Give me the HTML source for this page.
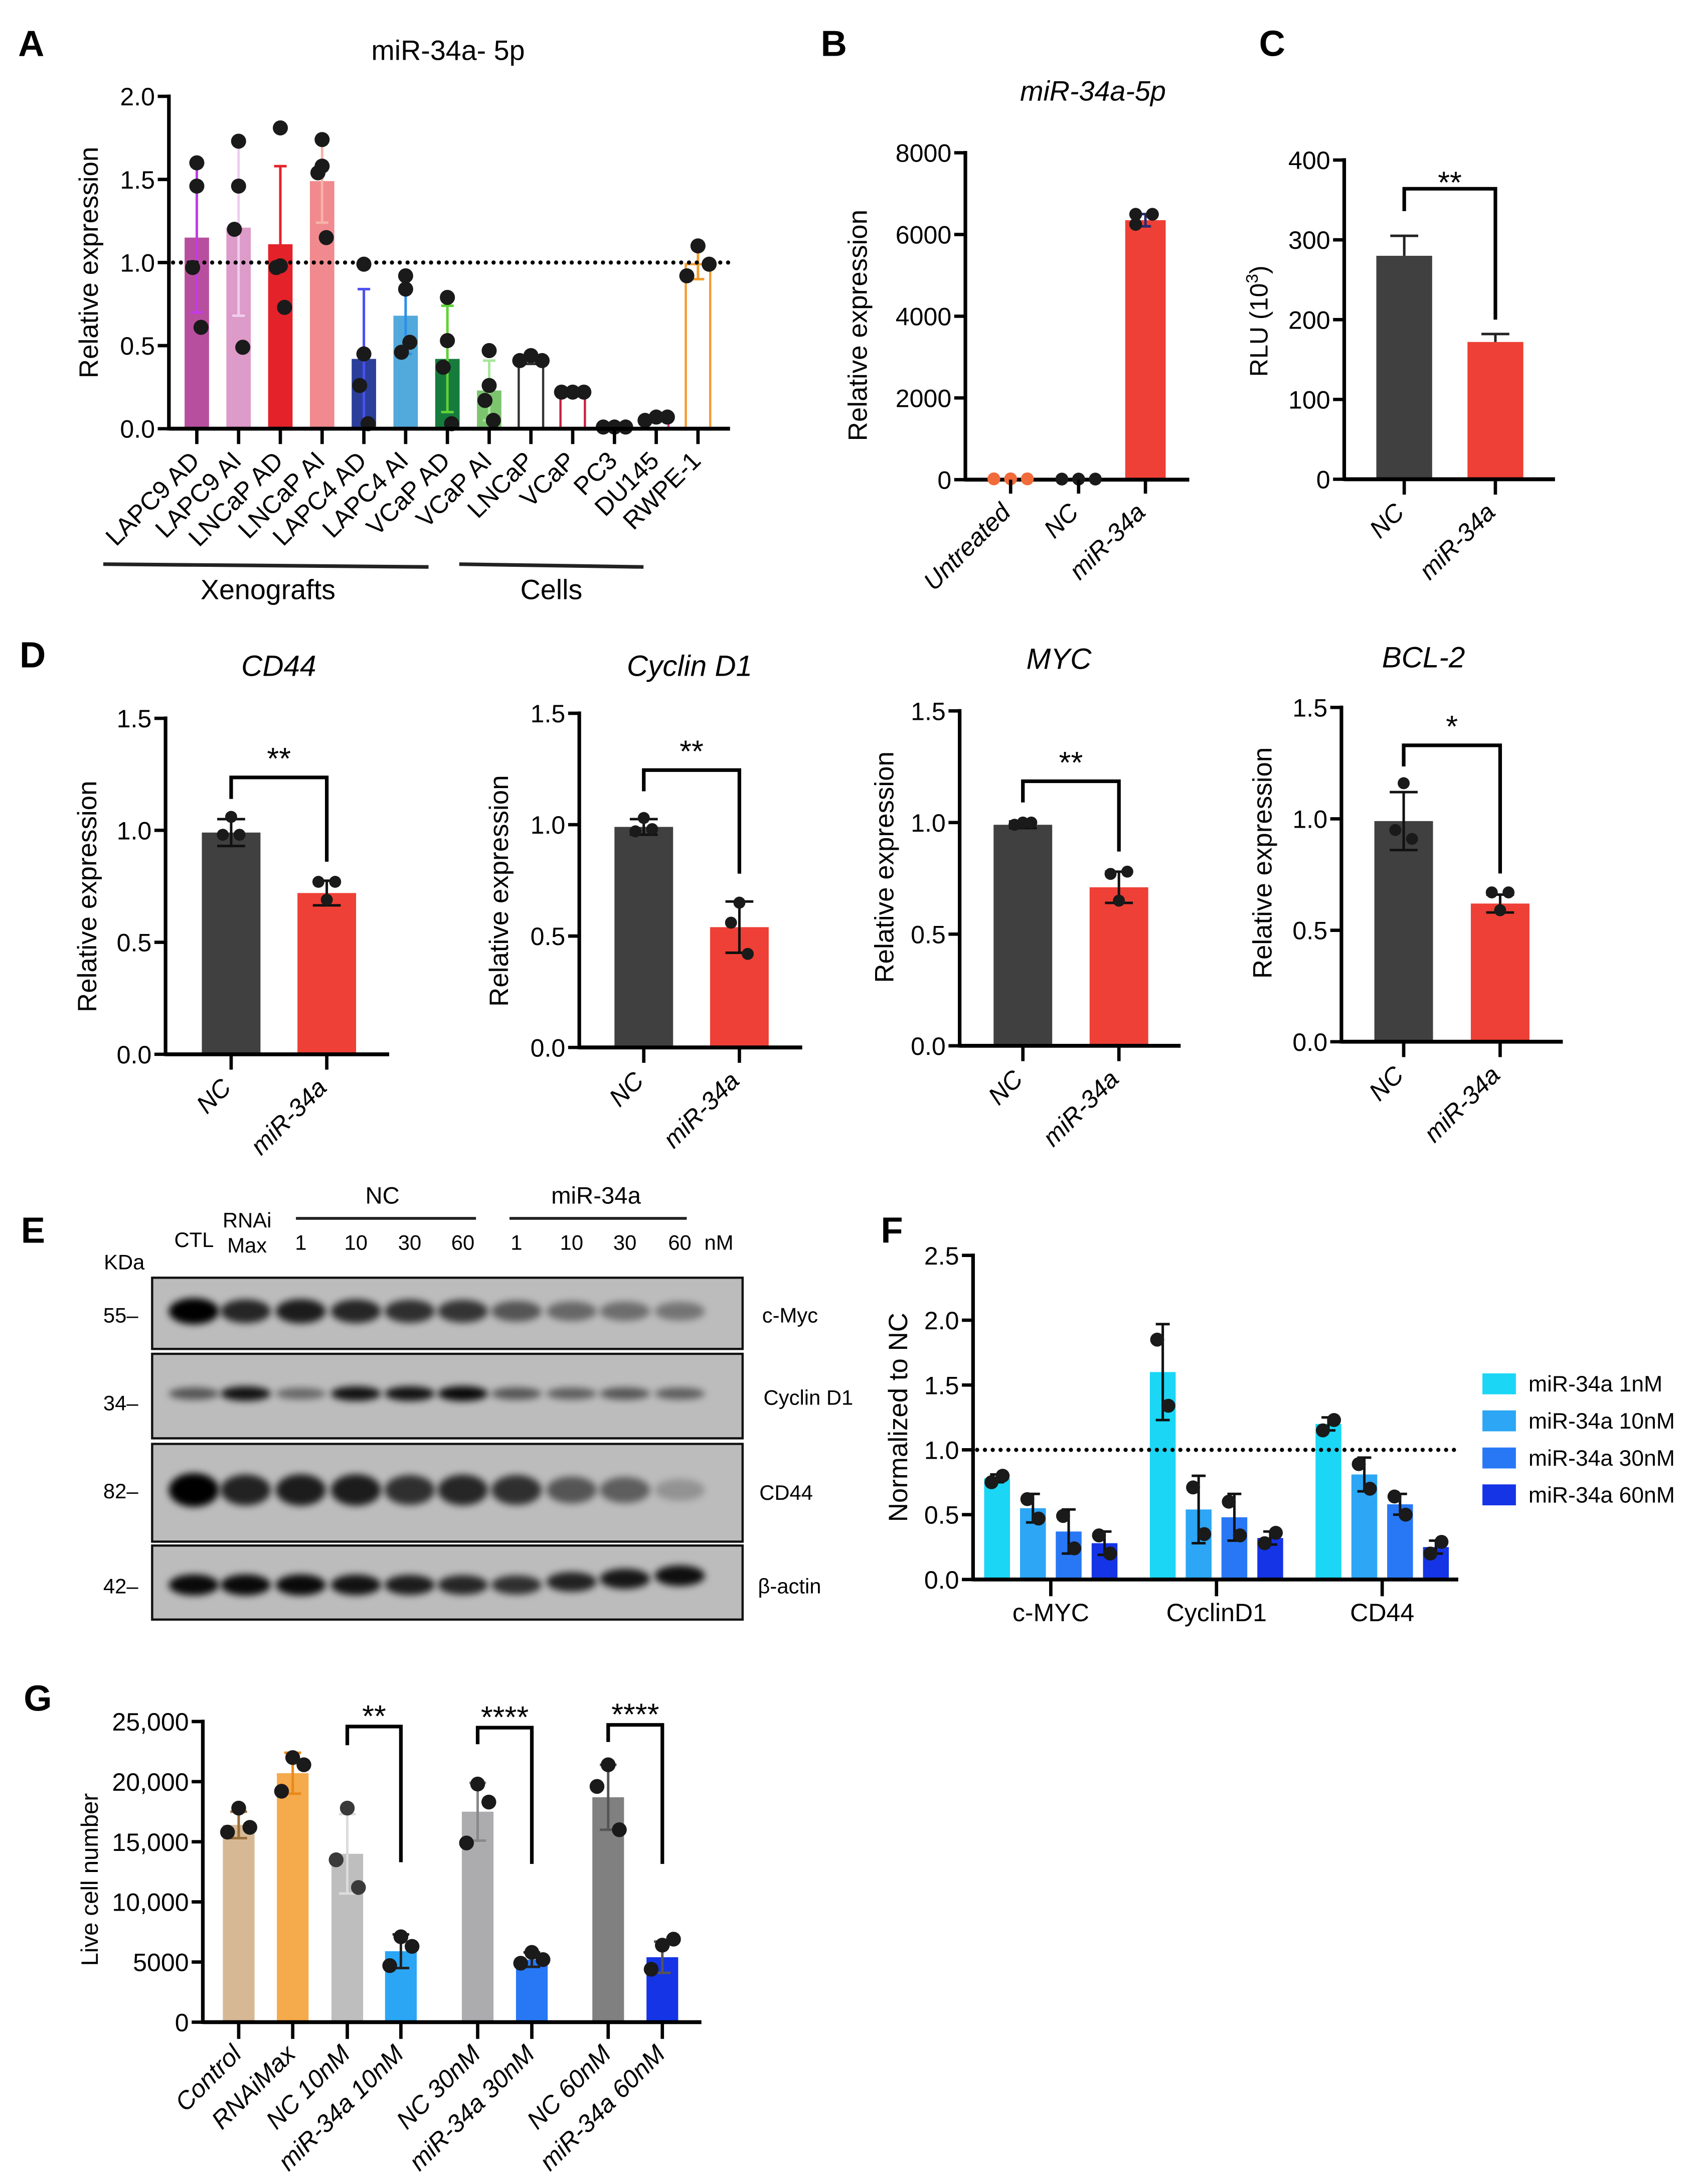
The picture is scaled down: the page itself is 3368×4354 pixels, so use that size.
<!DOCTYPE html>
<html><head><meta charset="utf-8"><title>miR-34a figure</title>
<style>html,body{margin:0;padding:0;background:#fff}svg{display:block}text{font-family:"Liberation Sans",Arial,sans-serif}</style>
</head><body>
<svg id="fig" xmlns="http://www.w3.org/2000/svg" width="3368" height="4354" viewBox="0 0 1210 1564" preserveAspectRatio="none">
<rect width="1210" height="1564" fill="#fff"/>
<defs><filter id="blur" x="-50%" y="-50%" width="200%" height="200%"><feGaussianBlur stdDeviation="2.6"/></filter></defs>
<g font-weight="bold" font-size="26">
<text x="13" y="40">A</text>
<text x="588" y="40">B</text>
<text x="902" y="40">C</text>
<text x="14" y="478">D</text>
<text x="15" y="890">E</text>
<text x="631" y="890">F</text>
<text x="17" y="1225">G</text>
</g>
<text x="321" y="43" font-size="20" text-anchor="middle">miR-34a- 5p</text>
<text x="783" y="72" font-size="20" font-style="italic" text-anchor="middle">miR-34a-5p</text>
<text x="192" y="429" font-size="20" text-anchor="middle">Xenografts</text>
<text x="395" y="429" font-size="20" text-anchor="middle">Cells</text>
<line x1="74" y1="404" x2="307" y2="406" stroke="#222" stroke-width="2.6"/>
<line x1="329" y1="404" x2="461" y2="406" stroke="#222" stroke-width="2.6"/>
<g id="gA"></g>
<g id="gB"></g>
<g id="gC"></g>
<g id="gD"></g>
<g id="gE">
<g font-size="15">
<text x="139" y="893" text-anchor="middle">CTL</text>
<text x="177" y="879" text-anchor="middle">RNAi</text>
<text x="177" y="897" text-anchor="middle">Max</text>
<text x="274" y="862" text-anchor="middle" font-size="17">NC</text>
<text x="427" y="862" text-anchor="middle" font-size="17">miR-34a</text>
<text x="515" y="895" text-anchor="middle">nM</text>
<text x="89" y="909" text-anchor="middle">KDa</text>
<text x="99" y="947" text-anchor="end">55–</text>
<text x="99" y="1010" text-anchor="end">34–</text>
<text x="99" y="1073" text-anchor="end">82–</text>
<text x="99" y="1141" text-anchor="end">42–</text>
<text x="546" y="947">c-Myc</text>
<text x="547" y="1006">Cyclin D1</text>
<text x="544" y="1074">CD44</text>
<text x="543" y="1141">β-actin</text>
</g>
<line x1="212" y1="872.5" x2="341" y2="872.5" stroke="#222" stroke-width="2"/>
<line x1="365" y1="872.5" x2="492" y2="872.5" stroke="#222" stroke-width="2"/>
</g>
<g id="gF"></g>
<g id="gG"></g>
</svg>
<script>
// ---------- DATA ----------
const aCats = ['LAPC9 AD','LAPC9 AI','LNCaP AD','LNCaP AI','LAPC4 AD','LAPC4 AI','VCaP AD','VCaP AI','LNCaP','VCaP','PC3','DU145','RWPE-1'];
const aMeans = [1.15,1.21,1.11,1.49,0.42,0.68,0.42,0.23,0.42,0.22,0.01,0.06,0.99];
const aSD = [0.45,0.53,0.47,0.25,0.42,0.23,0.32,0.18,0.03,0.01,0.01,0.01,0.09];
const aPoints = [[1.60,1.46,0.97,0.61],[1.73,1.46,1.20,0.49],[1.81,0.98,0.97,0.73],[1.74,1.58,1.54,1.15],[0.99,0.45,0.26,0.03],[0.92,0.84,0.46,0.52],[0.79,0.53,0.37,0.03],[0.47,0.26,0.17,0.05],[0.41,0.44,0.41],[0.22,0.22,0.22],[0.01,0.01,0.01],[0.05,0.07,0.07],[0.92,1.10,0.99]];
const aTickVals = [0,0.5,1,1.5,2];
const aTickLabels = ['0.0','0.5','1.0','1.5','2.0'];
const bCats = ['Untreated','NC','miR-34a'];
const bMeans = [0,0,6350];
const bSD = [0,0,150];
const bPoints = [[20,20,20],[15,15,15],[6494,6248,6494]];
const bTickVals = [0,2000,4000,6000,8000];
const bTickLabels = ['0','2000','4000','6000','8000'];
const cCats = ['NC','miR-34a'];
const cMeans = [280,172];
const cSD = [25,10];
const cTickVals = [0,100,200,300,400];
const cTickLabels = ['0','100','200','300','400'];
const cBracket = [336,364,200];
const dGenes = ['CD44','Cyclin D1','MYC','BCL-2'];
const dCats = ['NC','miR-34a'];
const dMeans = [[0.99,0.72],[0.99,0.54],[0.99,0.71],[0.99,0.62]];
const dSD = [[0.06,0.055],[0.035,0.115],[0.015,0.07],[0.13,0.04]];
const dPoints = [[[1.06,0.98,0.98],[0.69,0.77,0.77]],[[1.03,0.97,0.98],[0.65,0.56,0.42]],[[1.00,0.99,1.00],[0.65,0.77,0.78]],[[1.16,0.95,0.91],[0.59,0.67,0.67]]];
const dStars = ['**','**','**','*'];
const dBrackets = [[1.14,1.236,0.86],[1.15,1.245,0.78],[1.09,1.185,0.87],[1.235,1.33,0.755]];
const dTickVals = [0,0.5,1,1.5];
const dTickLabels = ['0.0','0.5','1.0','1.5'];
const eLanes = ['CTL','RNAiMax','NC 1','NC 10','NC 30','NC 60','miR 1','miR 10','miR 30','miR 60'];
const eLaneLabels = ['1','10','30','60','1','10','30','60'];
const eMyc = [1.0,0.8,0.85,0.8,0.75,0.72,0.55,0.45,0.42,0.38];
const eCyclin = [0.55,0.9,0.45,0.9,0.9,0.95,0.55,0.5,0.55,0.5];
const eCD44 = [1.0,0.82,0.85,0.85,0.75,0.8,0.75,0.55,0.5,0.22];
const eActin = [0.95,0.95,0.95,0.9,0.85,0.8,0.75,0.82,0.88,0.92];
const fGroups = ['c-MYC','CyclinD1','CD44'];
const fSeries = ['miR-34a 1nM','miR-34a 10nM','miR-34a 30nM','miR-34a 60nM'];
const fMeans = [[0.78,0.55,0.37,0.28],[1.60,0.54,0.48,0.32],[1.20,0.81,0.58,0.25]];
const fSD = [[0.03,0.11,0.17,0.09],[0.37,0.26,0.18,0.05],[0.05,0.13,0.08,0.05]];
const fPoints = [[[0.75,0.80],[0.62,0.47],[0.49,0.24],[0.34,0.20]],[[1.85,1.34],[0.71,0.35],[0.60,0.34],[0.28,0.36]],[[1.15,1.23],[0.89,0.70],[0.64,0.50],[0.20,0.29]]];
const fTickVals = [0,0.5,1,1.5,2,2.5];
const fTickLabels = ['0.0','0.5','1.0','1.5','2.0','2.5'];
const gCats = ['Control','RNAiMax','NC 10nM','miR-34a 10nM','NC 30nM','miR-34a 30nM','NC 60nM','miR-34a 60nM'];
const gMeans = [16400,20700,14000,5900,17500,5200,18700,5400];
const gSD = [1100,1700,3300,1400,2400,600,2700,1300];
const gPoints = [[17800,15800,16200],[22000,19200,21400],[17800,13500,11200],[7100,4700,6300],[19800,14900,18300],[5800,4900,5200],[21400,19600,16000],[6400,4400,6900]];
const gStars = ['**','****','****'];
const gBrackets = [[23030,24580,13300],[23110,24490,13160],[23300,24720,13160]];
const gTickVals = [0,5000,10000,15000,20000,25000];
const gTickLabels = ['0','5000','10,000','15,000','20,000','25,000'];

// ---------- HELPERS ----------
const NS='http://www.w3.org/2000/svg';
function mk(tag,attrs,parent){const e=document.createElementNS(NS,tag);for(const k in attrs)e.setAttribute(k,attrs[k]);parent.appendChild(e);return e;}
function lin(d0,d1,r0,r1){return v=>r0+(v-d0)*(r1-r0)/(d1-d0);}
function yAxis(g,x,sc,vals,labs,fs){
  const l=mk('line',{x1:x,x2:x,y1:sc(vals[vals.length-1])-1.3,y2:sc(vals[0])+1.3,stroke:'#000','stroke-width':2.6},g);
  
  
  vals.forEach((v,i)=>{
    const t=mk('line',{x1:x-8,x2:x,y1:sc(v),y2:sc(v),stroke:'#000','stroke-width':2.4},g);
    
    
    const tx=mk('text',{x:x-10,y:sc(v)+6.5,'text-anchor':'end','font-size':fs},g);
    tx.textContent=labs[i];
    
    
  });
}
function xAxis(g,x0,x1,y){
  const l=mk('line',{x1:x0,x2:x1,y1:y,y2:y,stroke:'#000','stroke-width':2.8},g);
  
  
}
function xTick(g,x,y,len){
  const t=mk('line',{x1:x,x2:x,y1:y,y2:y+len,stroke:'#000','stroke-width':2.4},g);
  
  
}
function rotLabel(g,x,y,s,fs,italic){
  const t=mk('text',{x:x,y:y,'text-anchor':'end','font-size':fs,transform:`rotate(-45 ${x} ${y})`},g);
  if(italic)t.setAttribute('font-style','italic');
  t.textContent=s;
  
  
}
function yTitle(g,x,y,s,fs){
  const t=mk('text',{x:x,y:y,'text-anchor':'middle','font-size':fs,transform:`rotate(-90 ${x} ${y})`},g);
  t.textContent=s;
  
  
  return t;
}
function bar(g,cx,w,sc,v,fill,stroke,name){
  const y=sc(v),y0=sc(0);
  const r=mk('rect',{x:cx-w/2,y:Math.min(y,y0),width:w,height:Math.abs(y0-y),fill:fill},g);
  if(stroke){r.setAttribute('stroke',stroke);r.setAttribute('stroke-width',1.6);}
  
  
}
function err(g,cx,sc,m,sd,col,cap,upOnly){
  const lo=upOnly?m:m-sd;
  const l=mk('line',{x1:cx,x2:cx,y1:sc(m+sd),y2:sc(lo),stroke:col,'stroke-width':1.8},g);
  
  
  const c1=mk('line',{x1:cx-cap/2,x2:cx+cap/2,y1:sc(m+sd),y2:sc(m+sd),stroke:col,'stroke-width':1.8},g);
  
  
  if(!upOnly){
    const c2=mk('line',{x1:cx-cap/2,x2:cx+cap/2,y1:sc(m-sd),y2:sc(m-sd),stroke:col,'stroke-width':1.8},g);
    
    
  }
}
function dots(g,cx,sc,pts,r,offs,col){
  pts.forEach((v,i)=>{
    const c=mk('circle',{cx:cx+offs[i%offs.length],cy:sc(v),r:r,fill:col||'#1a1a1a'},g);
    
    
  });
}
function bracket(g,x1,x2,sc,vals,star,fs,dy){
  const p=mk('path',{d:`M${x1} ${sc(vals[0])}V${sc(vals[1])}H${x2}V${sc(vals[2])}`,fill:'none',stroke:'#000','stroke-width':2.6},g);
  
  
  const t=mk('text',{x:(x1+x2)/2,y:sc(vals[1])-dy,'text-anchor':'middle','font-size':fs},g);
  t.textContent=star;
  
  
}
function dotted(g,x0,x1,y){
  const l=mk('line',{x1:x0,x2:x1,y1:y,y2:y,stroke:'#000','stroke-width':3,'stroke-dasharray':'0 5.6','stroke-linecap':'round'},g);
  
  
}

// ---------- PANEL A ----------
(function(){
  const g=document.getElementById('gA');
  const sc=lin(0,2,307,69);
  const x0=141, step=29.92, w=17.5;
  const fills=['#b84f9e','#dc9bc8','#e3222a','#f08a8e','#2b3f9a','#52a9dc','#167c3d','#7dc46f','#fff','#fff','#fff','#fff','#fff'];
  const strokes=[null,null,null,null,null,null,null,null,'#333','#c8223f','#777','#e0338c','#f39c2f'];
  const ecol=['#c23be6','#f0cdef','#e3222a','#f6b3a8','#4b4ff0','#2d8fe8','#5fd236','#a6e69a','#333','#c8223f','#555','#e0338c','#f39c2f'];
  aCats.forEach((c,i)=>{
    const cx=x0+i*step;
    bar(g,cx,w,sc,aMeans[i],fills[i],strokes[i],'bar-'+c.toLowerCase().replace(/\s+/g,'-'));
    err(g,cx,sc,aMeans[i],aSD[i],ecol[i],9,false);
  });
  dotted(g,124,523,sc(1));
  aCats.forEach((c,i)=>{
    const cx=x0+i*step;
    const n=aPoints[i].length;
    dots(g,cx,sc,aPoints[i],5.4,n===4?[0,0,-3,3]:[-8,0,8]);
    xTick(g,cx,307,11);
    rotLabel(g,cx+3,331,c,18,false);
  });
  xAxis(g,121,523,307);
  yAxis(g,121,sc,aTickVals,aTickLabels,18);
  yTitle(g,70,188,'Relative expression',19);
})();

// ---------- PANEL B ----------
(function(){
  const g=document.getElementById('gB');
  const sc=lin(0,8000,343.5,109.4);
  const xs=[724,772.7,820.6];
  const cols=['#f26b3a','#1a1a1a','#1a1a1a'];
  bCats.forEach((c,i)=>{
    if(bMeans[i]>0){bar(g,xs[i],29,sc,bMeans[i],'#ee4036',null,'bar-'+c.toLowerCase());
      err(g,xs[i],sc,bMeans[i],bSD[i],'#2b2a6e',8,false);}
  });
  xAxis(g,691.6,852,343.5);
  bCats.forEach((c,i)=>{
    dots(g,xs[i],sc,bPoints[i],4.6,i===2?[-7,-7,5]:[-12,0,12],cols[i]);
    xTick(g,xs[i],343.5,10);
    rotLabel(g,xs[i]+1,368,c,18,true);
  });
  yAxis(g,691.6,sc,bTickVals,bTickLabels,18);
  yTitle(g,621,233,'Relative expression',19);
})();

// ---------- PANEL C ----------
(function(){
  const g=document.getElementById('gC');
  const sc=lin(0,400,343.2,114.6);
  const xs=[1006,1071.3];
  const fills=['#404041','#ee4036'];
  cCats.forEach((c,i)=>{
    bar(g,xs[i],40,sc,cMeans[i],fills[i],null,'bar-'+c.toLowerCase());
    err(g,xs[i],sc,cMeans[i],cSD[i],'#222',20,true);
    xTick(g,xs[i],343.2,11);
    rotLabel(g,xs[i]+1,368,c,18,true);
  });
  xAxis(g,963,1114,343.2);
  yAxis(g,963,sc,cTickVals,cTickLabels,18);
  const t=yTitle(g,908,230,'RLU (10',18);
  const sup=mk('tspan',{'font-size':12,dy:-7},t);
  sup.textContent='3';
  const cl=mk('tspan',{dy:7},t);
  cl.textContent=')';
  bracket(g,xs[0],xs[1],sc,cBracket,'**',22,-3);
})();

// ---------- PANEL D ----------
(function(){
  const root=document.getElementById('gD');
  const dLayout={axisX:[118.6,415,687.5,961],y0:[755,750.1,748.9,746],yTop:[514.4,510.8,509.1,506.6],xEnd:[278.8,574.7,845.8,1119.6],tick1:[165.6,461.2,732.8,1005.6],tick2:[234.1,529.7,801.6,1074.7],titleX:[199.7,494,758.6,1019.8],titleY:[484,484,479,478],labX:[69,364,640,911],labY:[642,638,621,618]};
  const fills=['#404041','#ee4036'];
  dGenes.forEach((gene,k)=>{
    const g=mk('g',{},root);
    
    
    const sc=lin(0,1.5,dLayout.y0[k],dLayout.yTop[k]);
    const xs=[dLayout.tick1[k],dLayout.tick2[k]];
    const tt=mk('text',{x:dLayout.titleX[k],y:dLayout.titleY[k],'text-anchor':'middle','font-size':21,'font-style':'italic'},g);
    tt.textContent=gene;
    
    
    dCats.forEach((c,i)=>{
      bar(g,xs[i],42,sc,dMeans[k][i],fills[i],null,'bar-'+c.toLowerCase());
      err(g,xs[i],sc,dMeans[k][i],dSD[k][i],'#111',20,false);
      dots(g,xs[i],sc,dPoints[k][i],4.3,[0,-6,6]);
      xTick(g,xs[i],dLayout.y0[k],11);
      rotLabel(g,xs[i]+1,dLayout.y0[k]+25,c,18,true);
    });
    xAxis(g,dLayout.axisX[k],dLayout.xEnd[k],dLayout.y0[k]);
    yAxis(g,dLayout.axisX[k],sc,dTickVals,dTickLabels,18);
    yTitle(g,dLayout.labX[k],dLayout.labY[k],'Relative expression',19);
    bracket(g,xs[0],xs[1],sc,dBrackets[k],dStars[k],22,6);
  });
})();

// ---------- PANEL E ----------
(function(){
  const g=document.getElementById('gE');
  const laneX=[138.9,176,215.5,255,293.5,331.6,370,409.5,447.7,487];
  const blots=[{y:915,h:51,band:939,bh:17,d:eMyc,n:'cmyc'},{y:969.5,h:60.5,band:998,bh:10,d:eCyclin,n:'cyclind1'},{y:1034,h:70,band:1067,bh:22,d:eCD44,n:'cd44'},{y:1106.8,h:53,band:1135,bh:14,d:eActin,n:'bactin'}];
  eLaneLabels.forEach((s,i)=>{
    const t=mk('text',{x:laneX[i+2],y:895,'text-anchor':'middle','font-size':15},g);
    t.textContent=s;
    
    
  });
  blots.forEach(b=>{
    const r=mk('rect',{x:109,y:b.y,width:423,height:b.h,fill:'#bcbcbc',stroke:'#111','stroke-width':1.6},g);
    
    
    b.d.forEach((v,i)=>{
      const shift=b.n==='bactin'?-Math.max(0,i-6)*2.2:0;
      const e=mk('ellipse',{cx:laneX[i],cy:b.band+shift,rx:18,ry:b.bh/2*(0.6+0.5*v),fill:'#000','fill-opacity':v,filter:'url(#blur)'},g);
      
      
    });
  });
})();

// ---------- PANEL F ----------
(function(){
  const g=document.getElementById('gF');
  const sc=lin(0,2.5,1131.1,899);
  const gx=[752.8,871.5,990.2];
  const offs=[-38.5,-12.8,12.8,38.5];
  const cols=['#1bd6f5','#2ca6f5','#2878f6','#1534e6'];
  fGroups.forEach((grp,k)=>{
    fSeries.forEach((s,j)=>{
      const cx=gx[k]+offs[j];
      bar(g,cx,18.5,sc,fMeans[k][j],cols[j],null,'bar-'+grp.toLowerCase()+'-'+(j+1));
      err(g,cx,sc,fMeans[k][j],fSD[k][j],'#111',10,false);
    });
  });
  dotted(g,700,1044,sc(1));
  fGroups.forEach((grp,k)=>{
    fSeries.forEach((s,j)=>{
      dots(g,gx[k]+offs[j],sc,fPoints[k][j],5,[-4,4]);
    });
    xTick(g,gx[k],1131.1,12);
    const t=mk('text',{x:gx[k],y:1161,'text-anchor':'middle','font-size':18},g);
    t.textContent=grp;
    
    
  });
  xAxis(g,697.1,1044.7,1131.1);
  yAxis(g,697.1,sc,fTickVals,fTickLabels,18);
  yTitle(g,650,1015,'Normalized to NC',19);
  const ly=[983.5,1010,1036.6,1063];
  fSeries.forEach((s,j)=>{
    const r=mk('rect',{x:1062,y:ly[j],width:24,height:15,fill:cols[j]},g);
    
    
    const t=mk('text',{x:1095,y:ly[j]+13,'font-size':16},g);
    t.textContent=s;
    
    
  });
})();

// ---------- PANEL G ----------
(function(){
  const g=document.getElementById('gG');
  const sc=lin(0,25000,1448.1,1232.8);
  const xs=[171,209.7,248.8,287.2,342.2,381,435.7,474.5];
  const fills=['#d6b894','#f5aa4b','#bebebf','#2aa6f5','#acacae','#2878f6','#808080','#1434e6'];
  const ecol=['#9c6f3a','#e8891a','#dcdcdc','#222','#888','#222','#555','#555'];
  gCats.forEach((c,i)=>{
    bar(g,xs[i],22.7,sc,gMeans[i],fills[i],null,'bar-'+c.toLowerCase().replace(/\s+/g,'-'));
    err(g,xs[i],sc,gMeans[i],gSD[i],ecol[i],12,false);
    dots(g,xs[i],sc,gPoints[i],5.3,[0,-8,8],i===2?'#3a3a3a':'#1a1a1a');
    xTick(g,xs[i],1448.1,12);
    rotLabel(g,xs[i]+3,1472,c,18,true);
  });
  xAxis(g,145.3,502.5,1448.1);
  yAxis(g,145.3,sc,gTickVals,gTickLabels,18);
  yTitle(g,70,1346,'Live cell number',17);
  gStars.forEach((s,k)=>{
    bracket(g,xs[2+2*k],xs[3+2*k],sc,gBrackets[k],s,22,0);
  });
})();
</script>
</body></html>
